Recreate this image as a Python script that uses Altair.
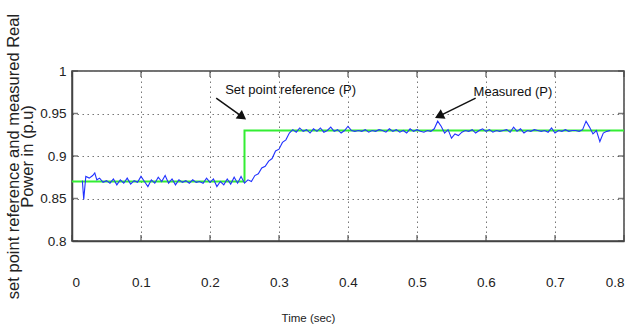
import altair as alt
import pandas as pd

# ---- data ----
set_t = [0.0, 0.25, 0.25, 0.8]
set_p = [0.87, 0.87, 0.93, 0.93]

meas_t = [0.015, 0.017, 0.020, 0.025, 0.030, 0.033, 0.036, 0.040, 0.045, 0.050,
          0.055, 0.060, 0.065, 0.070, 0.075, 0.080, 0.085, 0.090, 0.095, 0.100,
          0.105, 0.110, 0.115, 0.120, 0.125, 0.130, 0.135, 0.140, 0.145, 0.150,
          0.155, 0.160, 0.165, 0.170, 0.175, 0.180, 0.185, 0.190, 0.195, 0.200,
          0.205, 0.210, 0.215, 0.220, 0.225, 0.230, 0.235, 0.240, 0.245, 0.250,
          0.255, 0.260, 0.265, 0.270, 0.275, 0.280, 0.285, 0.290, 0.295, 0.300,
          0.305, 0.310, 0.315, 0.320, 0.325, 0.330, 0.335, 0.340, 0.345, 0.350,
          0.355, 0.360, 0.365, 0.370, 0.375, 0.380, 0.385, 0.390, 0.395, 0.400,
          0.405, 0.410, 0.415, 0.420, 0.425, 0.430, 0.435, 0.440, 0.445, 0.450,
          0.455, 0.460, 0.465, 0.470, 0.475, 0.480, 0.485, 0.490, 0.495, 0.500,
          0.505, 0.510, 0.515, 0.520, 0.525, 0.530, 0.535, 0.540, 0.545, 0.550,
          0.555, 0.560, 0.565, 0.570, 0.575, 0.580, 0.585, 0.590, 0.595, 0.600,
          0.605, 0.610, 0.615, 0.620, 0.625, 0.630, 0.635, 0.640, 0.645, 0.650,
          0.655, 0.660, 0.665, 0.670, 0.675, 0.680, 0.685, 0.690, 0.695, 0.700,
          0.705, 0.710, 0.715, 0.720, 0.725, 0.730, 0.735, 0.740, 0.745, 0.750,
          0.755, 0.760, 0.765, 0.770, 0.775, 0.780]
meas_p = [0.871, 0.849, 0.876, 0.874, 0.877, 0.880, 0.872, 0.874, 0.869, 0.871,
          0.868, 0.873, 0.866, 0.872, 0.868, 0.874, 0.867, 0.871, 0.869, 0.876,
          0.870, 0.864, 0.872, 0.868, 0.875, 0.870, 0.877, 0.868, 0.873, 0.866,
          0.872, 0.869, 0.871, 0.868, 0.872, 0.869, 0.870, 0.868, 0.874, 0.869,
          0.873, 0.864, 0.870, 0.866, 0.873, 0.867, 0.875, 0.868, 0.876, 0.868,
          0.872, 0.870, 0.877, 0.879, 0.886, 0.888, 0.894, 0.897, 0.906, 0.908,
          0.916, 0.919, 0.927, 0.931, 0.928, 0.933, 0.929, 0.931, 0.927, 0.932,
          0.929, 0.933, 0.928, 0.930, 0.934, 0.929, 0.931, 0.927, 0.930, 0.935,
          0.930, 0.929, 0.930, 0.929, 0.931, 0.928, 0.930, 0.929, 0.931, 0.930,
          0.928, 0.932, 0.929, 0.931, 0.928, 0.930, 0.927, 0.932, 0.929, 0.931,
          0.929, 0.928, 0.930, 0.929, 0.932, 0.941, 0.935, 0.927, 0.931, 0.921,
          0.926, 0.924, 0.928, 0.930, 0.929, 0.931, 0.927, 0.930, 0.932, 0.929,
          0.931, 0.928, 0.930, 0.929, 0.930, 0.931, 0.928, 0.934, 0.929, 0.932,
          0.927, 0.930, 0.929, 0.931, 0.930, 0.929, 0.930, 0.928, 0.933, 0.927,
          0.930, 0.929, 0.931, 0.929, 0.930, 0.930, 0.929, 0.931, 0.941, 0.934,
          0.926, 0.930, 0.917, 0.927, 0.929, 0.930]

x_ticks = [0, 0.1, 0.2, 0.3, 0.4, 0.5, 0.6, 0.7, 0.8]
y_ticks = [0.8, 0.85, 0.9, 0.95, 1.0]

ann_text = ["Set point reference (P)", "Measured (P)"]
ann_x = [0.222, 0.582]
ann_y = [0.978, 0.975]
arrow_x0 = [0.209, 0.585]
arrow_y0 = [0.968, 0.968]
arrow_x1 = [0.247, 0.532]
arrow_y1 = [0.946, 0.947]
arrow_angle = [126, 243]

FONT = "Liberation Sans, Arial, sans-serif"

set_df = pd.DataFrame({"t": set_t, "p": set_p, "o": list(range(len(set_t)))})
meas_df = pd.DataFrame({"t": meas_t, "p": meas_p})
ann_df = pd.DataFrame({"label": ann_text, "x": ann_x, "y": ann_y,
                       "x0": arrow_x0, "y0": arrow_y0, "x1": arrow_x1, "y1": arrow_y1,
                       "ang": arrow_angle})
xt_df = pd.DataFrame({"t": x_ticks})
yt_df = pd.DataFrame({"p": y_ticks})

xscale = alt.Scale(domain=[0, 0.8], nice=False, zero=False)
yscale = alt.Scale(domain=[0.8, 1.0], nice=False, zero=False)

xaxis = alt.Axis(values=x_ticks, format=".1~f", grid=True, gridColor="#777", gridDash=[1.5, 3.5],
                 gridWidth=1, tickSize=0, labelPadding=41, labelBaseline="middle",
                 labelFont=FONT, labelFontSize=13.5, labelColor="#222",
                 domainColor="#444", domainWidth=1.5,
                 title="Time (sec)", titleFont=FONT, titleFontSize=11.5, titleFontWeight="normal",
                 titleColor="#222", titleX=236, titleY=77, titleBaseline="middle", titleAlign="center")
yaxis = alt.Axis(values=y_ticks, format="~g", grid=True, gridColor="#777", gridDash=[1.5, 3.5],
                 gridWidth=1, tickSize=0, labelPadding=6,
                 labelFont=FONT, labelFontSize=13.5, labelColor="#222",
                 domainColor="#444", domainWidth=1.5,
                 title=["set point reference and measured  Real", "Power in (p.u)"],
                 titleFont=FONT, titleFontSize=16.5,
                 titleFontWeight="normal", titleColor="#222", titleAngle=270,
                 titleX=-67, titleY=85, titleAlign="center", titleBaseline="top",
                 titleLineHeight=14)

setline = alt.Chart(set_df).mark_line(color="#33ee33", strokeWidth=2).encode(
    x=alt.X("t:Q", scale=xscale, axis=xaxis),
    y=alt.Y("p:Q", scale=yscale, axis=yaxis),
    order="o:Q",
)
measline = alt.Chart(meas_df).mark_line(color="#2233ff", strokeWidth=1.1).encode(
    x=alt.X("t:Q", scale=xscale),
    y=alt.Y("p:Q", scale=yscale),
)

tick_style = dict(color="#444", thickness=1.5, size=6)
xt_bottom = alt.Chart(xt_df).mark_tick(**tick_style).encode(
    x=alt.X("t:Q", scale=xscale), y=alt.value(167))
xt_top = alt.Chart(xt_df).mark_tick(**tick_style).encode(
    x=alt.X("t:Q", scale=xscale), y=alt.value(3))
yt_left = alt.Chart(yt_df).mark_tick(**tick_style).encode(
    y=alt.Y("p:Q", scale=yscale), x=alt.value(3))
yt_right = alt.Chart(yt_df).mark_tick(**tick_style).encode(
    y=alt.Y("p:Q", scale=yscale), x=alt.value(549))

ann_txt = alt.Chart(ann_df).mark_text(align="left", baseline="middle", font=FONT,
                                      fontSize=13, color="#111").encode(
    x=alt.X("x:Q", scale=xscale), y=alt.Y("y:Q", scale=yscale), text="label:N")
arrows = alt.Chart(ann_df).mark_rule(color="#111", strokeWidth=1.5).encode(
    x=alt.X("x0:Q", scale=xscale), y=alt.Y("y0:Q", scale=yscale),
    x2="x1:Q", y2="y1:Q")
heads = alt.Chart(ann_df).mark_point(shape="triangle-up", filled=True, color="#111",
                                     size=110, opacity=1).encode(
    x=alt.X("x1:Q", scale=xscale), y=alt.Y("y1:Q", scale=yscale), angle=alt.Angle("ang:Q", scale=None))

chart = alt.layer(setline, measline, xt_bottom, xt_top, yt_left, yt_right,
                  arrows, heads, ann_txt).properties(
    width=552, height=170,
    autosize=alt.AutoSizeParams(type="none"),
    padding={"left": 72, "top": 71, "right": 10, "bottom": 86},
    background="white",
).configure_view(stroke="#444", strokeWidth=1.5)

chart.save("out.html", embed_options={"renderer": "svg", "actions": False})
